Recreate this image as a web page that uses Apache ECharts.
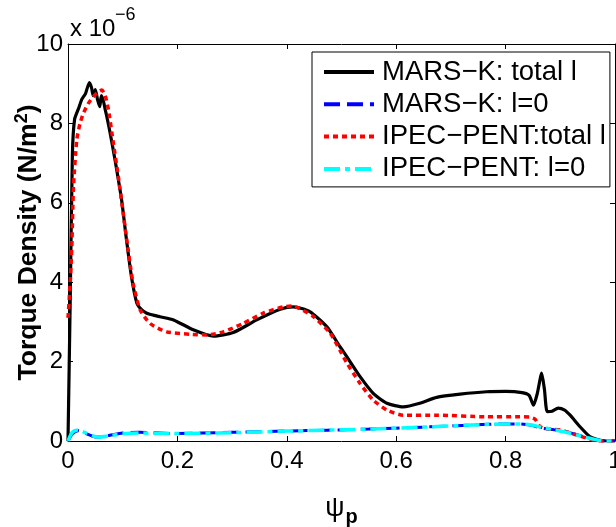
<!DOCTYPE html>
<html>
<head>
<meta charset="utf-8">
<script src="https://cdn.jsdelivr.net/npm/echarts@6/dist/echarts.min.js"></script>
<style>html,body{margin:0;padding:0;background:#fff}#c{width:616px;height:527px}</style>
</head>
<body>
<div id="c"></div>
<script>
// ---- data ----
const seriesNames = ['MARS\u2212K: total l', 'MARS\u2212K: l=0', 'IPEC\u2212PENT:total l', 'IPEC\u2212PENT: l=0'];
const xTicks = [0, 0.2, 0.4, 0.6, 0.8, 1];
const yTicks = [0, 2, 4, 6, 8, 10];

const marsTotalPsi = [0, 0.004, 0.008, 0.012, 0.02, 0.025, 0.032, 0.039, 0.043, 0.046, 0.050, 0.054, 0.058, 0.061, 0.065, 0.068, 0.071, 0.077, 0.086, 0.098, 0.107, 0.116, 0.126, 0.135, 0.144, 0.156, 0.168, 0.193, 0.229, 0.266, 0.302, 0.345, 0.388, 0.412, 0.442, 0.473, 0.497, 0.51, 0.534, 0.558, 0.583, 0.613, 0.643, 0.674, 0.717, 0.765, 0.80, 0.83, 0.843, 0.851, 0.858, 0.866, 0.871, 0.876, 0.885, 0.896, 0.908, 0.918, 0.936, 0.954, 0.973, 0.985, 1.0];
const marsTotal = [0, 3.5, 7.2, 8.1, 8.4, 8.6, 8.75, 9.03, 8.9, 8.7, 8.85, 8.6, 8.42, 8.7, 8.55, 8.35, 8.17, 7.76, 7.08, 6.07, 5.06, 4.14, 3.47, 3.3, 3.22, 3.17, 3.13, 3.05, 2.8, 2.64, 2.73, 3.05, 3.32, 3.38, 3.26, 2.88, 2.38, 2.12, 1.62, 1.2, 0.95, 0.86, 0.95, 1.1, 1.18, 1.24, 1.25, 1.22, 1.15, 0.9, 1.2, 1.71, 1.3, 0.74, 0.75, 0.83, 0.78, 0.65, 0.36, 0.11, 0.02, 0, 0];

const ipecTotalPsi = [0, 0.004, 0.007, 0.010, 0.016, 0.022, 0.028, 0.037, 0.046, 0.054, 0.062, 0.068, 0.074, 0.083, 0.092, 0.101, 0.110, 0.119, 0.132, 0.15, 0.18, 0.223, 0.254, 0.284, 0.32, 0.357, 0.394, 0.41, 0.449, 0.479, 0.497, 0.51, 0.534, 0.558, 0.583, 0.613, 0.674, 0.765, 0.826, 0.845, 0.854, 0.863, 0.88, 0.9, 0.93, 0.954, 0.97, 1.0];
const ipecTotal = [3.1, 4.0, 4.9, 6.4, 7.58, 8.0, 8.25, 8.5, 8.67, 8.78, 8.84, 8.7, 8.34, 7.5, 6.66, 5.73, 4.81, 3.97, 3.3, 2.96, 2.75, 2.69, 2.67, 2.75, 2.96, 3.22, 3.38, 3.4, 3.13, 2.72, 2.29, 1.96, 1.45, 1.03, 0.78, 0.65, 0.65, 0.61, 0.61, 0.6, 0.55, 0.36, 0.3, 0.28, 0.15, 0.05, 0.0, 0];

const l0Psi = [0, 0.008, 0.018, 0.03, 0.045, 0.055, 0.075, 0.1, 0.13, 0.19, 0.3, 0.4, 0.55, 0.65, 0.77, 0.82, 0.845, 0.867, 0.89, 0.917, 0.95, 0.97, 0.985, 1.0];
const marsL0 = [0, 0.18, 0.26, 0.2, 0.12, 0.1, 0.14, 0.2, 0.22, 0.19, 0.22, 0.25, 0.3, 0.35, 0.42, 0.43, 0.4, 0.32, 0.28, 0.21, 0.08, 0.02, 0, 0];
const ipecL0 = [0, 0.22, 0.28, 0.22, 0.13, 0.1, 0.13, 0.18, 0.2, 0.19, 0.21, 0.25, 0.3, 0.35, 0.42, 0.43, 0.41, 0.34, 0.28, 0.2, 0.08, 0.02, 0, 0];

const zip = (xs, ys) => xs.map((x, i) => [x, ys[i]]);
const FONT = '"Liberation Sans", Arial, Helvetica, sans-serif';

const chart = echarts.init(document.getElementById('c'), null, {renderer: 'canvas'});

const axisLineStyle = {color: '#000', width: 1};
const baseX = {
  type: 'value', min: 0, max: 1, interval: 0.2,
  axisLine: {show: true, onZero: false, lineStyle: axisLineStyle},
  axisTick: {show: true, inside: true, length: 5, lineStyle: axisLineStyle},
  splitLine: {show: false}
};
const baseY = {
  type: 'value', min: 0, max: 10, interval: 2,
  axisLine: {show: true, onZero: false, lineStyle: axisLineStyle},
  axisTick: {show: true, inside: true, length: 5, lineStyle: axisLineStyle},
  splitLine: {show: false}
};

chart.setOption({
  animation: false,
  backgroundColor: '#fff',
  textStyle: {fontFamily: FONT},
  grid: {left: 68, right: 1, top: 44, bottom: 86, containLabel: false, outerBoundsMode: 'none'},
  xAxis: [
    Object.assign({}, baseX, {
      position: 'bottom',
      axisLabel: {fontSize: 24, color: '#000', fontFamily: FONT, margin: 8,
        formatter: v => String(Math.round(v * 10) / 10)},
      name: '{a|\u03c8}{b|p}', nameLocation: 'middle', nameGap: 50, nameMoveOverlap: false,
      nameTextStyle: {rich: {
        a: {fontSize: 27, fontFamily: FONT, color: '#000'},
        b: {fontSize: 20, fontWeight: 'bold', fontFamily: FONT, color: '#000', padding: [16, 0, 0, 1]}
      }}
    }),
    Object.assign({}, baseX, {position: 'top', axisLabel: {show: false}})
  ],
  yAxis: [
    Object.assign({}, baseY, {
      position: 'left',
      axisLabel: {fontSize: 24, color: '#000', fontFamily: FONT, margin: 5},
      name: '{a|Torque Density (N/m}{s|2}{a|)}', nameLocation: 'middle', nameGap: 23, nameRotate: 90,
      nameMoveOverlap: false,
      nameTextStyle: {rich: {
        a: {fontSize: 26.5, fontWeight: 'bold', fontFamily: FONT, color: '#000'},
        s: {fontSize: 18, fontWeight: 'bold', fontFamily: FONT, color: '#000', padding: [0, 0, 14, 0]}
      }}
    }),
    Object.assign({}, baseY, {position: 'right', axisLabel: {show: false}})
  ],
  legend: {
    orient: 'vertical', left: 312, top: 52,
    padding: [5, 4, 3, 10], itemGap: 2.3,
    itemWidth: 50, itemHeight: 14,
    borderColor: '#000', borderWidth: 1, backgroundColor: '#fff',
    itemStyle: {color: 'rgba(0,0,0,0)', borderColor: 'rgba(0,0,0,0)', borderWidth: 0, opacity: 0},
    lineStyle: {width: 4},
    textStyle: {fontSize: 27.5, color: '#000', fontFamily: FONT, lineHeight: 30, padding: [0, 0, 0, 3]},
    data: seriesNames,
    selectedMode: false
  },
  graphic: [
    {type: 'text', left: 70, top: 17, style: {text: 'x 10', fontSize: 24, fontFamily: FONT, fill: '#000'}},
    {type: 'text', left: 115, top: 6, style: {text: '\u22126', fontSize: 18, fontFamily: FONT, fill: '#000'}}
  ],
  series: [
    {name: seriesNames[0], type: 'line', data: zip(marsTotalPsi, marsTotal), symbol: 'none', smooth: 0.2,
      lineStyle: {color: '#000', width: 3.2, type: 'solid'}, itemStyle: {color: '#000'}, z: 2},
    {name: seriesNames[1], type: 'line', data: zip(l0Psi, marsL0), symbol: 'none', smooth: 0.3,
      lineStyle: {color: '#0000ff', width: 3, type: [16, 7]}, itemStyle: {color: '#0000ff'}, z: 3},
    {name: seriesNames[2], type: 'line', data: zip(ipecTotalPsi, ipecTotal), symbol: 'none', smooth: 0.2,
      lineStyle: {color: '#ff0000', width: 3.5, type: [5, 4]}, itemStyle: {color: '#ff0000'}, z: 4},
    {name: seriesNames[3], type: 'line', data: zip(l0Psi, ipecL0), symbol: 'none', smooth: 0.3,
      lineStyle: {color: '#00ffff', width: 3.5, type: [16, 5, 5, 5]}, itemStyle: {color: '#00ffff'}, z: 5}
  ]
});
</script>
</body>
</html>
